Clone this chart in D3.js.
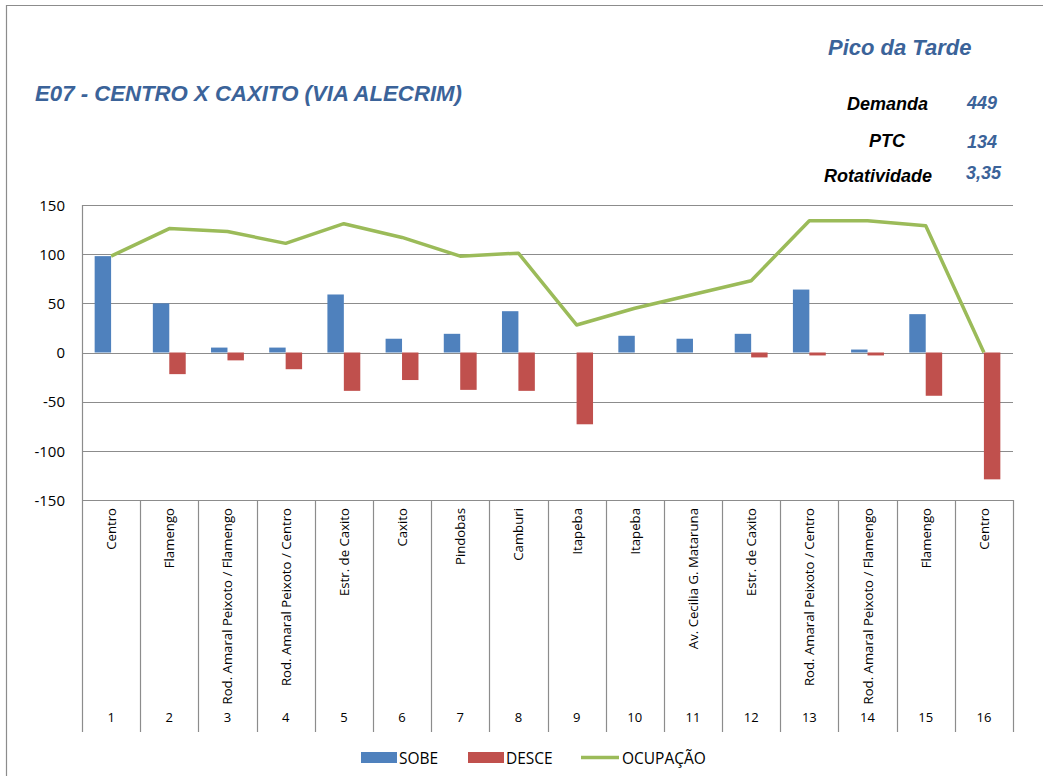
<!DOCTYPE html>
<html>
<head>
<meta charset="utf-8">
<script src="https://cdn.jsdelivr.net/npm/d3@7"></script>
<style>
  html, body { margin: 0; padding: 0; background: #fff; }
  svg { display: block; }
</style>
</head>
<body>
<svg id="chart" width="1043" height="776"></svg>
<script>
// ---- data ----
const stopNumbers = ["1","2","3","4","5","6","7","8","9","10","11","12","13","14","15","16"];
const stopNames = ["Centro","Flamengo","Rod. Amaral Peixoto / Flamengo","Rod. Amaral Peixoto / Centro",
  "Estr. de Caxito","Caxito","Pindobas","Camburi","Itapeba","Itapeba","Av. Cecilia G. Mataruna",
  "Estr. de Caxito","Rod. Amaral Peixoto / Centro","Rod. Amaral Peixoto / Flamengo","Flamengo","Centro"];
const sobe  = [98, 50, 5, 5, 59, 14, 19, 42, 0, 17, 14, 19, 64, 3, 39, 0];
const desce = [0, -22, -8, -17, -39, -28, -38, -39, -73, 0, 0, -5, -3, -3, -44, -129];
const ocupacao = [98, 126, 123, 111, 131, 117, 98, 101, 28, 45, 59, 73, 134, 134, 129, 0];
const yTicks = [-150, -100, -50, 0, 50, 100, 150];
const seriesNames = ["SOBE", "DESCE", "OCUPAÇÃO"];
const titleText = "E07 - CENTRO X CAXITO (VIA ALECRIM)";
const periodText = "Pico da Tarde";
const statLabels = ["Demanda", "PTC", "Rotatividade"];
const statValues = ["449", "134", "3,35"];

// ---- layout ----
const svg = d3.select("#chart");
const plotLeft = 82, plotRight = 1013, plotTop = 205, plotBottom = 500, catBottom = 732;
const blue = "#4F81BD", red = "#C0504D", green = "#9BBB59", grid = "#8C8C8C";
const titleBlue = "#3B6399";

// outer border
svg.append("path").attr("d", "M6.5,776 L6.5,5.5 L1043,5.5")
  .attr("fill", "none").attr("stroke", "#8C8C8C").attr("stroke-width", 1.2);

const x = d3.scaleBand().domain(stopNumbers).range([plotLeft, plotRight]).paddingInner(0).paddingOuter(0);
const x1 = d3.scaleBand().domain(["sobe", "desce"]).range([0, x.bandwidth()]).paddingInner(0).paddingOuter(0.77);
const y = d3.scaleLinear().domain([-150, 150]).range([plotBottom, plotTop]);

// gridlines
svg.append("g").selectAll("line").data(yTicks).join("line")
  .attr("x1", plotLeft).attr("x2", plotRight)
  .attr("y1", d => Math.round(y(d)) + 0.5).attr("y2", d => Math.round(y(d)) + 0.5)
  .attr("stroke", grid).attr("stroke-width", 1);

// y axis via d3.axisLeft
const yAxis = d3.axisLeft(y).tickValues(yTicks).tickSize(0).tickPadding(17).tickFormat(d => String(d));
const gy = svg.append("g").attr("transform", `translate(${plotLeft},0)`).call(yAxis);
gy.select(".domain").remove();
gy.selectAll("text").attr("font-family", "'Open Sans', 'Liberation Sans', sans-serif")
  .attr("font-size", 15).attr("fill", "#000").attr("dy", "0.35em");

// left axis line down through category area
svg.append("line").attr("x1", plotLeft + 0.5).attr("x2", plotLeft + 0.5).attr("y1", plotTop).attr("y2", catBottom)
  .attr("stroke", grid).attr("stroke-width", 1.2);

// category dividers
const boundaries = stopNumbers.map(d => x(d)).concat([x(stopNumbers[stopNumbers.length - 1]) + x.bandwidth()]);
svg.append("g").selectAll("line").data(boundaries.slice(1)).join("line")
  .attr("x1", d => Math.round(d) + 0.5).attr("x2", d => Math.round(d) + 0.5)
  .attr("y1", plotBottom).attr("y2", catBottom)
  .attr("stroke", grid).attr("stroke-width", 1.2);

// bars
const barG = svg.append("g");
barG.selectAll("rect.sobe").data(sobe).join("rect").attr("class", "sobe")
  .attr("x", (d, i) => x(stopNumbers[i]) + x1("sobe"))
  .attr("width", x1.bandwidth())
  .attr("y", d => y(Math.max(0, d)))
  .attr("height", d => Math.abs(y(d) - y(0)))
  .attr("fill", blue);
barG.selectAll("rect.desce").data(desce).join("rect").attr("class", "desce")
  .attr("x", (d, i) => x(stopNumbers[i]) + x1("desce"))
  .attr("width", x1.bandwidth())
  .attr("y", d => y(Math.max(0, d)))
  .attr("height", d => Math.abs(y(d) - y(0)))
  .attr("fill", red);

// line
const line = d3.line()
  .x((d, i) => x(stopNumbers[i]) + x.bandwidth() / 2)
  .y(d => y(d));
svg.append("path").datum(ocupacao).attr("d", line)
  .attr("fill", "none").attr("stroke", green).attr("stroke-width", 3.5).attr("stroke-linejoin", "round");

// category labels (rotated)
const labelFont = "'Open Sans', 'Liberation Sans', sans-serif";
svg.append("g").selectAll("text").data(stopNames).join("text")
  .attr("transform", (d, i) => `translate(${x(stopNumbers[i]) + x.bandwidth() / 2 + 5},508) rotate(-90)`)
  .attr("text-anchor", "end")
  .attr("font-family", labelFont).attr("font-size", 13.2).attr("fill", "#000")
  .text(d => d);

// stop numbers
svg.append("g").selectAll("text").data(stopNumbers).join("text")
  .attr("x", d => x(d) + x.bandwidth() / 2).attr("y", 722)
  .attr("text-anchor", "middle")
  .attr("font-family", labelFont).attr("font-size", 13).attr("fill", "#000")
  .text(d => d);

// title texts
const bi = "'Liberation Sans', Arial, sans-serif";
svg.append("text").attr("x", 35).attr("y", 101)
  .attr("font-family", bi).attr("font-size", 22.2).attr("font-weight", "bold").attr("font-style", "italic")
  .attr("fill", titleBlue).text(titleText);
svg.append("text").attr("x", 828).attr("y", 55)
  .attr("font-family", bi).attr("font-size", 22).attr("font-weight", "bold").attr("font-style", "italic")
  .attr("fill", titleBlue).text(periodText);

const statLabelX = [847, 869, 824];
const statY = [110, 147, 182];
const statValueX = [967, 967, 966];
const statValueY = [109, 148, 179];
svg.append("g").selectAll("text").data(statLabels).join("text")
  .attr("x", (d, i) => statLabelX[i]).attr("y", (d, i) => statY[i])
  .attr("font-family", bi).attr("font-size", 18).attr("font-weight", "bold").attr("font-style", "italic")
  .attr("fill", "#000").text(d => d);
svg.append("g").selectAll("text").data(statValues).join("text")
  .attr("x", (d, i) => statValueX[i]).attr("y", (d, i) => statValueY[i])
  .attr("font-family", bi).attr("font-size", 18).attr("font-weight", "bold").attr("font-style", "italic")
  .attr("fill", titleBlue).text(d => d);

// legend
const legend = svg.append("g");
const legendX = [361, 468, 581];
const legendColors = [blue, red, green];
seriesNames.forEach((name, i) => {
  const g = legend.append("g").attr("transform", `translate(${legendX[i]},0)`);
  if (i < 2) {
    g.append("rect").attr("x", 0).attr("y", 752).attr("width", 36).attr("height", 11).attr("fill", legendColors[i]);
  } else {
    g.append("line").attr("x1", 0).attr("x2", 38).attr("y1", 757.5).attr("y2", 757.5)
      .attr("stroke", legendColors[i]).attr("stroke-width", 3.5);
  }
  g.append("text").attr("x", i < 2 ? 38 : 41).attr("y", 764)
    .attr("font-family", labelFont).attr("font-size", 15.5).attr("fill", "#000").text(name);
});
</script>
</body>
</html>
